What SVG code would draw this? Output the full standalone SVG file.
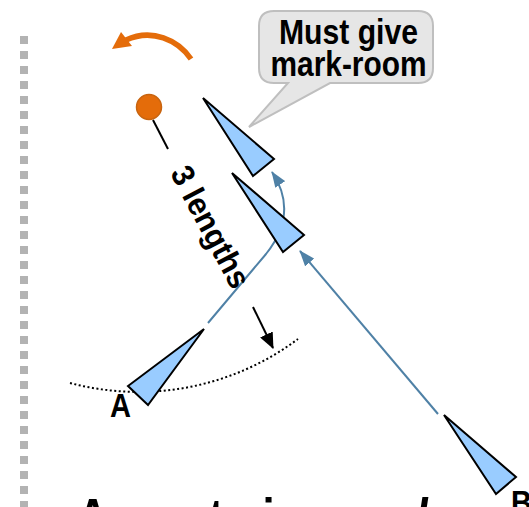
<svg xmlns="http://www.w3.org/2000/svg" width="529" height="507" viewBox="0 0 529 507">
<style>
.boat{fill:#99ccff;stroke:#000;stroke-width:2;stroke-linejoin:miter}
.lbl{font-family:"Liberation Sans",Arial,sans-serif;font-weight:bold;fill:#000}
.conn{fill:none;stroke:#4f81a6;stroke-width:2}
</style>
<defs>
<marker id="ab" markerUnits="userSpaceOnUse" markerWidth="16" markerHeight="12" viewBox="0 0 16 12" refX="15" refY="6" orient="auto"><path d="M0,0 L16,6 L0,12 z" fill="#4f81a6"/></marker>
<marker id="ak" markerUnits="userSpaceOnUse" markerWidth="16" markerHeight="14" viewBox="0 0 16 14" refX="15" refY="7" orient="auto"><path d="M0,0 L16,7 L0,14 z" fill="#000"/></marker>
</defs>
<rect width="529" height="507" fill="#fff"/>
<line x1="24" y1="36" x2="24" y2="507" stroke="#b3b3b3" stroke-width="8" stroke-dasharray="8 7"/>
<g id="mark">
<circle cx="149" cy="107" r="12.5" fill="#e46c0a" stroke="#c8640f" stroke-width="1.5"/>
<line x1="153" y1="120" x2="168" y2="149" stroke="#000" stroke-width="2"/>
</g>
<g id="rotation-arrow">
<path d="M191,59 C178,40 152,28 126,40" fill="none" stroke="#e46c0a" stroke-width="5.5"/>
<polygon points="112,49 121,32 132,46" fill="#e46c0a"/>
</g>
<g id="zone-arc">
<path d="M70,383 A267,267 0 0 0 298,339" fill="none" stroke="#000" stroke-width="2" stroke-dasharray="2 2.5"/>
</g>
<g id="connectors">
<path class="conn" d="M208,323 L266,254 C282,234 294,205 272,172" marker-end="url(#ab)"/>
<path class="conn" d="M438,414 L300,251" marker-end="url(#ab)"/>
<line x1="253" y1="307" x2="273" y2="348" stroke="#000" stroke-width="2" marker-end="url(#ak)"/>
</g>
<g id="boat-top"><polygon class="boat" points="203,98 274,159 253,176"/></g>
<g id="boat-mid"><polygon class="boat" points="232,173 304,235 283,252"/></g>
<g id="boat-A"><polygon class="boat" points="204,329 128,386 148,405"/></g>
<g id="boat-B"><polygon class="boat" points="444,415 516,477 496,494"/></g>
<g id="callout">
<path d="M274,11 L418,11 Q433,11 433,26 L433,68 Q433,83 418,83 L330,83 L249,127 L288,83 L274,83 Q259,83 259,68 L259,26 Q259,11 274,11 Z" fill="#e6e6e6" stroke="#bfbfbf" stroke-width="2"/>
<text class="lbl" x="348.5" y="43.5" font-size="35" text-anchor="middle" textLength="139" lengthAdjust="spacingAndGlyphs">Must give</text>
<text class="lbl" x="348.5" y="76" font-size="35" text-anchor="middle" textLength="156" lengthAdjust="spacingAndGlyphs">mark-room</text>
</g>
<g id="length-label">
<text class="lbl" font-size="32" text-anchor="middle" transform="translate(201,232) rotate(62) scale(0.95,1)">3 lengths</text>
</g>
<text class="lbl" x="110" y="417" font-size="33" textLength="21" lengthAdjust="spacingAndGlyphs">A</text>
<text class="lbl" x="511" y="514" font-size="33" textLength="21" lengthAdjust="spacingAndGlyphs">B</text>
<text class="lbl" font-size="54" transform="translate(77,536) scale(0.81,1)">A must give <tspan font-style="italic">mark</tspan>-room</text>
</svg>
